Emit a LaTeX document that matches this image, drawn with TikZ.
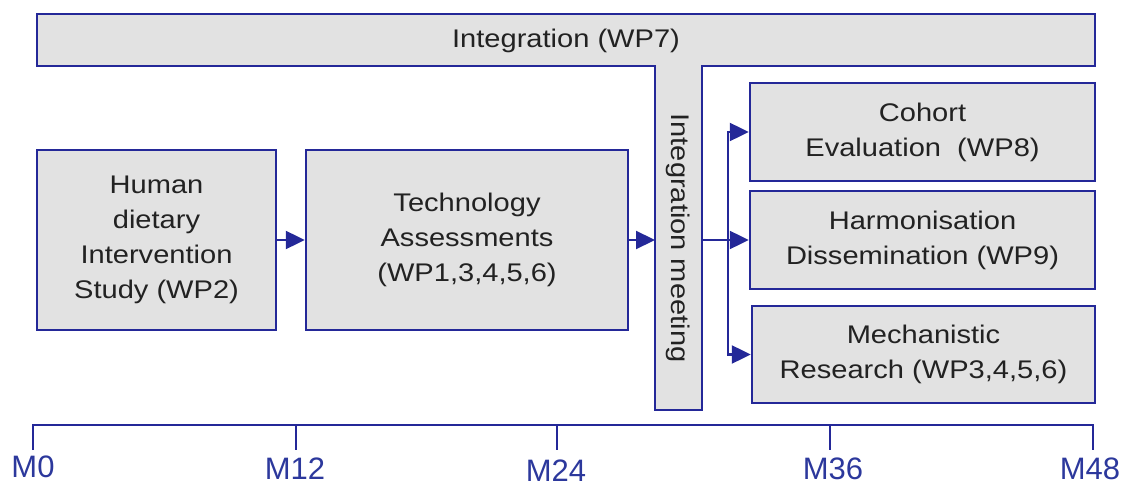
\documentclass[tikz,border=0pt]{standalone}
\usepackage{fontspec}
\setmainfont{Liberation Sans}
\newfontfamily\boxfont[FakeStretch=1.14]{Liberation Sans}
\usepackage{tikz}
\usetikzlibrary{arrows.meta}

\definecolor{frameblue}{RGB}{36,40,152}
\definecolor{boxgray}{RGB}{226,226,226}
\definecolor{textgray}{RGB}{34,34,34}
\definecolor{axisblue}{RGB}{44,56,156}

\tikzset{
  wptext/.style={text=textgray, align=center, inner sep=0pt, font=\boxfont\fontsize{25.5}{35}\selectfont},
  wpbox/.style={wptext, draw=frameblue, fill=boxgray, line width=2.4pt},
  flow/.style={frameblue, line width=2.2pt, -{Triangle[length=19pt,width=18pt]}},
  month/.style={text=axisblue, inner sep=0pt, font=\fontsize{31}{31}\selectfont}
}

\begin{document}
\begin{tikzpicture}[x=1pt,y=-1pt]
        \useasboundingbox (0,0) rectangle (1124,489);
        
        % integration bar and meeting stem
        \draw [frameblue, fill=boxgray, line width=2.4pt] (37,14) -- (1095,14) -- (1095,66) -- (702,66) -- (702,410) -- (655,410) -- (655,66) -- (37,66) -- cycle;
        \node [wptext] (wp7) at (566,41) {Integration (WP7)};
        \node [wptext, rotate=-90] (meeting) at (678,238) {Integration meeting};
        \coordinate (stemin) at (655,240);
        \coordinate (stemout) at (702,240);
        \coordinate (split) at (728,240);
        
        \node [wpbox, minimum width=239pt, minimum height=180pt] (human) at (156.5,240) {Human\\dietary\\Intervention\\Study (WP2)};
        \node [wpbox, minimum width=322pt, minimum height=180pt] (tech) at (467,240) {Technology\\Assessments\\(WP1,3,4,5,6)};
        
        \node [wpbox, minimum width=345pt, minimum height=98pt] (cohort) at (922.5,132) {Cohort\\Evaluation\ \ (WP8)};
        \node [wpbox, minimum width=345pt, minimum height=98pt] (harmon) at (922.5,240) {Harmonisation\\Dissemination (WP9)};
        \node [wpbox, minimum width=343pt, minimum height=97pt] (mech) at (923.5,354.5) {Mechanistic\\Research (WP3,4,5,6)};
        
        \draw [flow] (human) -- (tech);
        \draw [flow] (tech) -- (stemin);
        \draw [frameblue, line width=2.2pt] (stemout) -- (split);
        \draw [flow] (split) |- (cohort.west);
        \draw [flow] (split) -- (harmon.west);
        \draw [flow] (split) |- (mech.west);
        
        % time line
        \draw [frameblue, line width=2.2pt] (33,450) -- (33,425) -- (1093,425) -- (1093,450);
        \draw [frameblue, line width=2.2pt] (296,425) -- (296,450);
        \draw [frameblue, line width=2.2pt] (557,425) -- (557,450);
        \draw [frameblue, line width=2.2pt] (830,425) -- (830,450);
        \node [month] (m0) at (33,467) {M0};
        \node [month] (m12) at (295,469) {M12};
        \node [month] (m24) at (556,471) {M24};
        \node [month] (m36) at (833,469) {M36};
        \node [month] (m48) at (1090,469) {M48};
\end{tikzpicture}
\end{document}
